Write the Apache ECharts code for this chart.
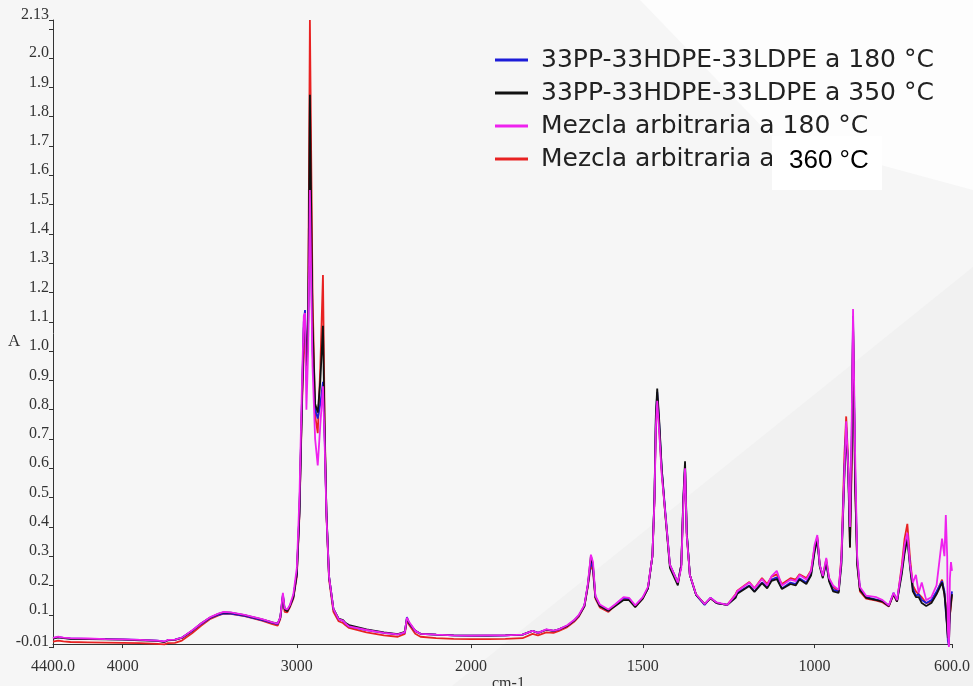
<!DOCTYPE html>
<html><head><meta charset="utf-8">
<script src="https://cdn.jsdelivr.net/npm/echarts@6/dist/echarts.min.js"></script>
<style>html,body{margin:0;padding:0;background:#f6f6f6}#c{width:973px;height:686px}</style>
</head><body><div id="c"></div>
<script>
// Wavenumbers (cm-1), descending
const wavenumbers = [4400,4370,4340,4300,4200,4100,4000,3900,3800,3760,3740,3700,3660,3600,3550,3500,3450,3420,3380,3300,3200,3140,3110,3095,3080,3070,3055,3040,3020,3000,2985,2970,2960,2953,2945,2935,2925,2910,2895,2880,2865,2850,2840,2830,2815,2790,2760,2735,2720,2700,2600,2500,2420,2380,2368,2355,2345,2320,2290,2200,2100,2000,
1950,1900,1850,1821,1805,1781,1760,1744,1720,1700,1686,1670,1660,1651,1645,1638,1625,1600,1580,1556,1540,1522,1500,1485,1472,1466,1462,1458,1452,1445,1435,1421,1398,1388,1382,1377,1372,1363,1345,1320,1303,1285,1254,1230,1225,1190,1175,1153,1138,1125,1110,1095,1070,1055,1044,1024,1010,1000,992,985,976,966,958,946,930,922,913,908,902,897,892,888,882,876,868,850,820,802,784,770,760,746,738,730,722,714,705,697,688,675,660,645,629,622,618,614,612,609,606,603,600];

const blue180 = [.020,.024,.021,.019,.018,.017,.016,.014,.012,.008,.014,.015,.022,.045,.068,.088,.100,.105,.104,.096,.082,.072,.068,.090,.170,.120,.115,.130,.160,.240,.450,.850,1.100,1.140,.950,1.050,1.586,1.000,.800,.770,.820,.895,.700,.450,.230,.120,.085,.080,.070,.060,.048,.038,.033,.040,.092,.070,.076,.045,.035,.032,.030,.029,
.029,.030,.032,.045,.038,.049,.045,.050,.062,.080,.097,.130,.200,.280,.260,.160,.130,.114,.134,.158,.155,.130,.158,.190,.300,.500,.770,.860,.750,.600,.460,.270,.210,.270,.490,.610,.380,.236,.168,.134,.158,.140,.134,.160,.175,.200,.180,.210,.195,.220,.228,.190,.210,.205,.225,.210,.240,.320,.360,.270,.230,.280,.220,.185,.180,.280,.600,.730,.600,.370,.700,1.120,.600,.290,.190,.160,.152,.147,.130,.175,.147,.250,.320,.370,.270,.190,.165,.170,.150,.140,.150,.180,.215,.180,.110,.060,.010,-.005,.120,.150,.180];

const black350 = [.019,.023,.020,.018,.017,.016,.015,.013,.011,.007,.013,.014,.021,.046,.070,.090,.103,.108,.107,.099,.084,.074,.070,.090,.165,.118,.112,.130,.160,.240,.450,.840,1.080,1.100,.950,1.100,1.875,1.100,.820,.790,.900,1.086,.720,.450,.230,.120,.087,.082,.072,.065,.050,.040,.034,.042,.088,.072,.074,.045,.035,.032,.030,.029,
.029,.030,.032,.045,.038,.049,.045,.050,.062,.080,.097,.130,.200,.300,.270,.160,.130,.114,.130,.150,.150,.126,.155,.190,.300,.500,.780,.872,.760,.600,.450,.260,.200,.270,.500,.624,.380,.236,.168,.136,.156,.140,.134,.158,.172,.198,.178,.208,.190,.216,.222,.188,.205,.200,.220,.205,.235,.315,.355,.265,.225,.280,.215,.180,.175,.270,.580,.740,.580,.330,.650,1.090,.550,.270,.185,.158,.150,.145,.130,.170,.145,.240,.310,.360,.260,.180,.160,.160,.140,.130,.140,.170,.210,.170,.120,.050,.020,.020,.100,.140,.170];

const magenta180 = [.021,.025,.022,.020,.019,.017,.016,.014,.012,.009,.014,.015,.022,.047,.070,.091,.104,.110,.108,.100,.085,.074,.070,.092,.175,.122,.118,.133,.170,.260,.500,.900,1.120,1.130,.800,1.000,1.550,.950,.700,.610,.750,.880,.680,.440,.230,.120,.085,.080,.070,.060,.048,.038,.033,.040,.090,.075,.080,.045,.035,.032,.030,.029,
.030,.030,.032,.045,.038,.050,.046,.050,.064,.082,.100,.133,.205,.305,.280,.165,.135,.118,.136,.160,.158,.132,.160,.195,.300,.490,.740,.830,.720,.580,.454,.270,.210,.260,.480,.600,.370,.236,.170,.136,.158,.142,.134,.168,.180,.210,.190,.222,.200,.232,.250,.200,.220,.215,.236,.220,.250,.338,.372,.270,.232,.294,.226,.200,.185,.290,.600,.760,.600,.400,.750,1.144,.650,.300,.195,.165,.160,.150,.132,.175,.150,.260,.338,.380,.270,.210,.236,.175,.210,.150,.160,.200,.360,.300,.440,.300,.050,-.010,.226,.280,.250];

const red360 = [.008,.012,.009,.007,.006,.005,.004,.003,.001,-.001,.003,.004,.012,.038,.062,.085,.098,.104,.103,.095,.080,.068,.063,.085,.160,.110,.108,.125,.155,.230,.440,.820,1.000,1.050,.900,1.150,2.130,1.200,.780,.720,.950,1.260,.750,.440,.220,.110,.078,.072,.064,.055,.040,.030,.025,.035,.080,.065,.070,.035,.025,.020,.018,.017,
.017,.018,.020,.035,.030,.040,.038,.045,.058,.076,.094,.128,.195,.270,.250,.155,.125,.110,.132,.155,.152,.128,.156,.190,.300,.490,.750,.840,.730,.590,.450,.270,.210,.270,.480,.600,.370,.236,.170,.136,.156,.140,.134,.170,.182,.212,.190,.225,.205,.230,.238,.205,.225,.220,.238,.225,.252,.330,.365,.270,.232,.290,.225,.195,.180,.300,.650,.777,.620,.330,.600,1.100,.550,.280,.180,.155,.148,.142,.128,.170,.145,.270,.360,.410,.290,.200,.180,.170,.160,.140,.145,.175,.220,.170,.130,.060,.030,.000,.100,.130,.170];

const seriesNames = ['33PP-33HDPE-33LDPE a 180 °C','33PP-33HDPE-33LDPE a 350 °C','Mezcla arbitraria a 180 °C','Mezcla arbitraria a 360 °C'];
const seriesColors = ['#1c1cd8','#111111','#ee22ee','#e82222'];
const seriesValues = [blue180, black350, magenta180, red360];

const xTicksHigh = [4400,4000,3000,2000];
const xTicksLow = [2000,1500,1000,600];
const xLabelsLow = [1500,1000,600];
const yTicks = [-0.01,0.1,0.2,0.3,0.4,0.5,0.6,0.7,0.8,0.9,1.0,1.1,1.2,1.3,1.4,1.5,1.6,1.7,1.8,1.9,2.0,2.1,2.13];
const yLabels = [-0.01,0.1,0.2,0.3,0.4,0.5,0.6,0.7,0.8,0.9,1.0,1.1,1.2,1.3,1.4,1.5,1.6,1.7,1.8,1.9,2.0,2.13];

function pairs(vals, hi) {
  const out = [];
  for (let i = 0; i < wavenumbers.length; i++) {
    const w = wavenumbers[i];
    if (hi ? w >= 2000 : w <= 2000) out.push([w, vals[i]]);
  }
  return out;
}

const drawOrder = [3, 0, 1, 2];
const series = [];
drawOrder.forEach(i => {
  [true, false].forEach(hi => {
    series.push({
      name: seriesNames[i], type: 'line', xAxisIndex: hi ? 0 : 1, yAxisIndex: hi ? 0 : 1,
      data: pairs(seriesValues[i], hi), showSymbol: false, symbol: 'none',
      lineStyle: { width: 1.8, color: seriesColors[i] }, itemStyle: { color: seriesColors[i] }
    });
  });
});

const axisFont = { fontFamily: 'Liberation Serif', fontSize: 16, color: '#333' };

const chart = echarts.init(document.getElementById('c'));
chart.setOption({
  backgroundColor: '#f6f6f6',
  animation: false,
  grid: [
    { left: 53, top: 20, width: 418, height: 627 },
    { left: 471, top: 20, width: 486, height: 627 }
  ],
  xAxis: [
    { gridIndex: 0, type: 'value', min: 2000, max: 4400, inverse: true,
      axisLine: { lineStyle: { color: '#333', width: 1 } },
      axisTick: { customValues: xTicksHigh, length: 4, lineStyle: { color: '#333' } },
      axisLabel: Object.assign({ customValues: xTicksHigh, margin: 12,
        formatter: v => v === 4400 ? '4400.0' : String(v) }, axisFont),
      splitLine: { show: false } },
    { gridIndex: 1, type: 'value', min: 600, max: 2000, inverse: true,
      axisLine: { lineStyle: { color: '#333', width: 1 } },
      axisTick: { customValues: xTicksLow, length: 4, lineStyle: { color: '#333' } },
      axisLabel: Object.assign({ customValues: xLabelsLow, margin: 12,
        formatter: v => v === 600 ? '600.0' : String(v) }, axisFont),
      splitLine: { show: false } }
  ],
  yAxis: [
    { gridIndex: 0, type: 'value', min: -0.01, max: 2.13,
      axisLine: { show: true, lineStyle: { color: '#333', width: 1 } },
      axisTick: { show: true, customValues: yTicks, length: 4, lineStyle: { color: '#333' } },
      axisLabel: Object.assign({ customValues: yLabels, margin: 4, verticalAlign: 'bottom', lineHeight: 10,
        formatter: v => v === 2.13 ? '2.13' : (v === -0.01 ? '-0.01' : v.toFixed(1)) }, axisFont),
      splitLine: { show: false } },
    { gridIndex: 1, type: 'value', min: -0.01, max: 2.13, show: false, splitLine: { show: false } }
  ],
  legend: {
    orient: 'vertical', left: 490, top: 42, itemWidth: 33, itemHeight: 3, itemGap: 7, icon: 'rect',
    textStyle: { fontFamily: 'DejaVu Sans', fontSize: 25, color: '#222', lineHeight: 26, padding: [0, 0, 0, 8] },
    data: seriesNames,
    formatter: n => n === 'Mezcla arbitraria a 360 °C' ? 'Mezcla arbitraria a' : n
  },
  graphic: [
    { type: 'polygon', z: -100, silent: true, shape: { points: [[452,686],[973,267],[973,686]] }, style: { fill: '#f1f1f1' } },
    { type: 'polygon', z: -100, silent: true, shape: { points: [[640,0],[973,0],[973,190],[770,135]] }, style: { fill: '#fdfdfd' } },
    { type: 'text', left: 8, top: 333, z: 50, style: { text: 'A', font: '17px "Liberation Serif"', fill: '#333' } },
    { type: 'text', left: 492, top: 676, z: 50, style: { text: 'cm-1', font: '16px "Liberation Serif"', fill: '#333' } },
    { type: 'rect', z: 100, silent: true, shape: { x: 772, y: 136, width: 110, height: 54 }, style: { fill: '#ffffff' } },
    { type: 'text', left: 789, top: 148, z: 101, style: { text: '360 °C', font: '26px "Liberation Sans"', fill: '#000' } }
  ],
  series: series
});
</script></body></html>
